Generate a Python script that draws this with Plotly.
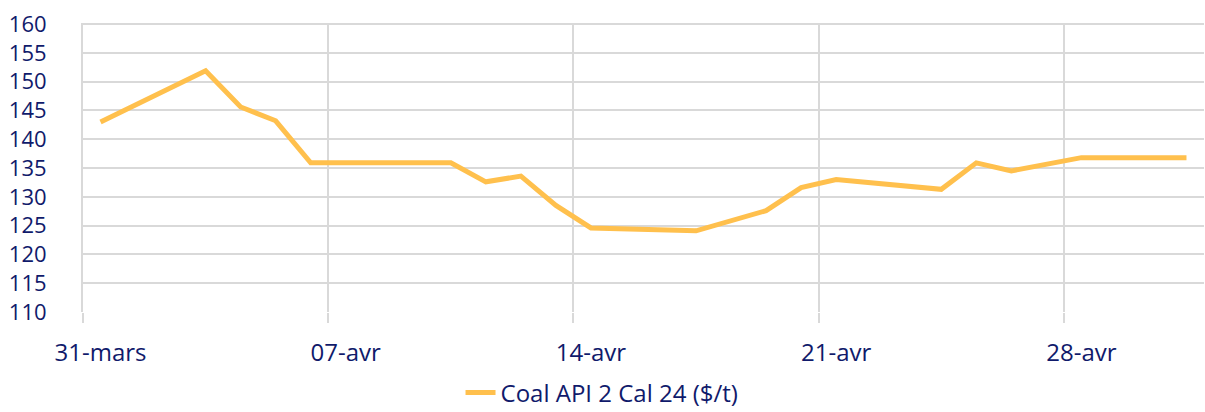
import plotly.graph_objects as go

dates = ["2023-03-31", "2023-04-03", "2023-04-04", "2023-04-05", "2023-04-06",
         "2023-04-10", "2023-04-11", "2023-04-12", "2023-04-13", "2023-04-14",
         "2023-04-17", "2023-04-18", "2023-04-19", "2023-04-20", "2023-04-21",
         "2023-04-24", "2023-04-25", "2023-04-26", "2023-04-27", "2023-04-28",
         "2023-05-01"]
coal_api2_cal24 = [143.0, 151.9, 145.6, 143.2, 135.9,
                   135.9, 132.6, 133.6, 128.5, 124.6,
                   124.1, 125.9, 127.6, 131.6, 133.0,
                   131.3, 135.9, 134.5, 135.6, 136.8,
                   136.8]
tick_dates = ["2023-03-31", "2023-04-07", "2023-04-14", "2023-04-21", "2023-04-28"]
tick_labels = ["31-mars", "07-avr", "14-avr", "21-avr", "28-avr"]
y_ticks = [110, 115, 120, 125, 130, 135, 140, 145, 150, 155, 160]
series_name = "Coal API 2 Cal 24 ($/t)"

TEXT = "#101a6b"
GRID = "#d9d9d9"
LINE = "#ffc04d"

fig = go.Figure()
fig.add_trace(go.Scatter(
    x=dates, y=coal_api2_cal24, mode="lines", name=series_name,
    line=dict(color=LINE, width=5),
))

fig.update_layout(
    width=1205, height=412,
    margin=dict(l=83, r=1, t=23, b=100, pad=0, autoexpand=False),
    paper_bgcolor="white", plot_bgcolor="white",
    font=dict(family="Open Sans, sans-serif", size=24, color=TEXT),
    showlegend=True,
    legend=dict(orientation="h", x=0.463, xanchor="center", y=-0.28, yanchor="middle",
                font=dict(size=24, color=TEXT), bgcolor="rgba(0,0,0,0)"),
)

fig.update_xaxes(
    type="date",
    range=["2023-03-30 12:00", "2023-05-01 12:00"],
    tickmode="array", tickvals=tick_dates, ticktext=tick_labels,
    ticks="", showgrid=False, zeroline=False, showline=False,
    ticklabelstandoff=24, automargin=False,
    tickfont=dict(size=24),
    minor=dict(tick0="2023-03-30 12:00", dtick=7 * 86400000, showgrid=True,
               gridcolor=GRID, gridwidth=2, ticks="outside", ticklen=10,
               tickcolor=GRID, tickwidth=2),
)
fig.update_yaxes(
    range=[110, 160.18], tickmode="array", tickvals=y_ticks,
    showgrid=True, gridcolor=GRID, gridwidth=2,
    zeroline=False, showline=True, linecolor=GRID, linewidth=2,
    ticks="", ticklabelstandoff=30, automargin=False,
    ticklabeloverflow="allow",
    tickfont=dict(size=22),
)

fig.write_html("out.html", config={"displayModeBar": False},
               post_script="document.body.style.margin='0px';")
